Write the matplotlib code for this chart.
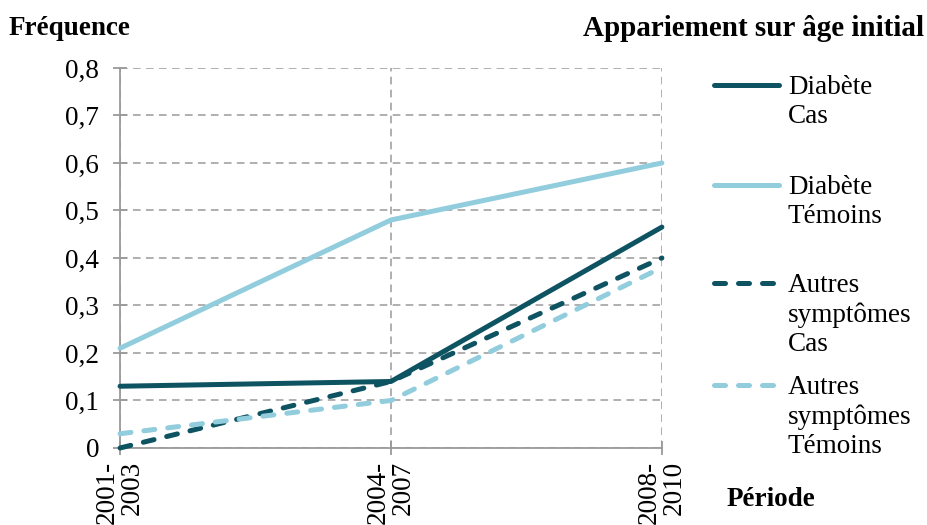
import matplotlib
matplotlib.use('Agg')
import matplotlib.pyplot as plt
from matplotlib.lines import Line2D

plt.rcParams['font.family'] = ['Liberation Serif', 'DejaVu Serif']

# data
periods = ['2001-\n2003', '2004-\n2007', '2008-\n2010']
diabete_cas = [0.13, 0.14, 0.465]
diabete_temoins = [0.21, 0.48, 0.60]
autres_cas = [0.0, 0.14, 0.40]
autres_temoins = [0.03, 0.10, 0.38]
series_labels = ['Diabète\nCas', 'Diabète\nTémoins',
                 'Autres\nsymptômes\nCas', 'Autres\nsymptômes\nTémoins']
y_ticks = [0, 0.1, 0.2, 0.3, 0.4, 0.5, 0.6, 0.7, 0.8]
y_ticklabels = ['0', '0,1', '0,2', '0,3', '0,4', '0,5', '0,6', '0,7', '0,8']

dark = '#0d5361'
light = '#92cddd'
grey = '#9a9a9a'
fs = 19.5
lw = 3.6
dash = (0, (2.2, 2.6))

fig = plt.figure(figsize=(9.27, 5.25), dpi=100)
ax = fig.add_axes([0.1295, 0.1467, 0.5845, 0.7238])

x = list(range(len(periods)))
styles = [
    (diabete_cas, dark, '-'),
    (diabete_temoins, light, '-'),
    (autres_cas, dark, dash),
    (autres_temoins, light, dash),
]
for vals, c, ls in styles:
    ax.plot(x, vals, color=c, lw=lw, ls=ls, solid_capstyle='round',
            dash_capstyle='round', zorder=3, clip_on=False)

ax.set_xlim(0, 2)
ax.set_ylim(0, 0.8)
ax.set_yticks(y_ticks)
ax.set_yticklabels(y_ticklabels, fontsize=fs)
ax.set_xticks(x)
ax.set_xticklabels(periods, rotation=90, fontsize=fs, va='top', ha='center',
                   multialignment='right', linespacing=1.0)

for s in ['top', 'right']:
    ax.spines[s].set_visible(False)
for s in ['left', 'bottom']:
    ax.spines[s].set_color(grey)
    ax.spines[s].set_linewidth(1.3)
ax.tick_params(axis='both', direction='inout', length=10, width=1.3, color=grey)
ax.tick_params(axis='y', pad=10)
ax.tick_params(axis='x', pad=4)

ax.grid(True, color=grey, lw=1.1, ls=(0, (5, 3.5)), zorder=1)
ax.set_axisbelow(True)

fig.text(0.009, 0.946, 'Fréquence', fontsize=fs, fontweight='bold', va='center')
fig.text(0.997, 0.946, 'Appariement sur âge initial', fontsize=21,
         fontweight='bold', ha='right', va='center')
fig.text(0.784, 0.048, 'Période', fontsize=fs, fontweight='bold', va='center')

# manual legend: handle aligned with first text line
leg_y = [85, 185, 283, 385]
for (vals, c, ls), lab, yp in zip(styles, series_labels, leg_y):
    yf = 1 - yp / 525
    fig.add_artist(Line2D([714 / 927, 779 / 927], [yf, yf], color=c, lw=lw,
                          ls=ls, solid_capstyle='round', dash_capstyle='round'))
    fig.text(788 / 927, yf + 10 / 525, lab, fontsize=fs, va='top', ha='left',
             linespacing=1.22)

fig.savefig('out.png', dpi=100)
